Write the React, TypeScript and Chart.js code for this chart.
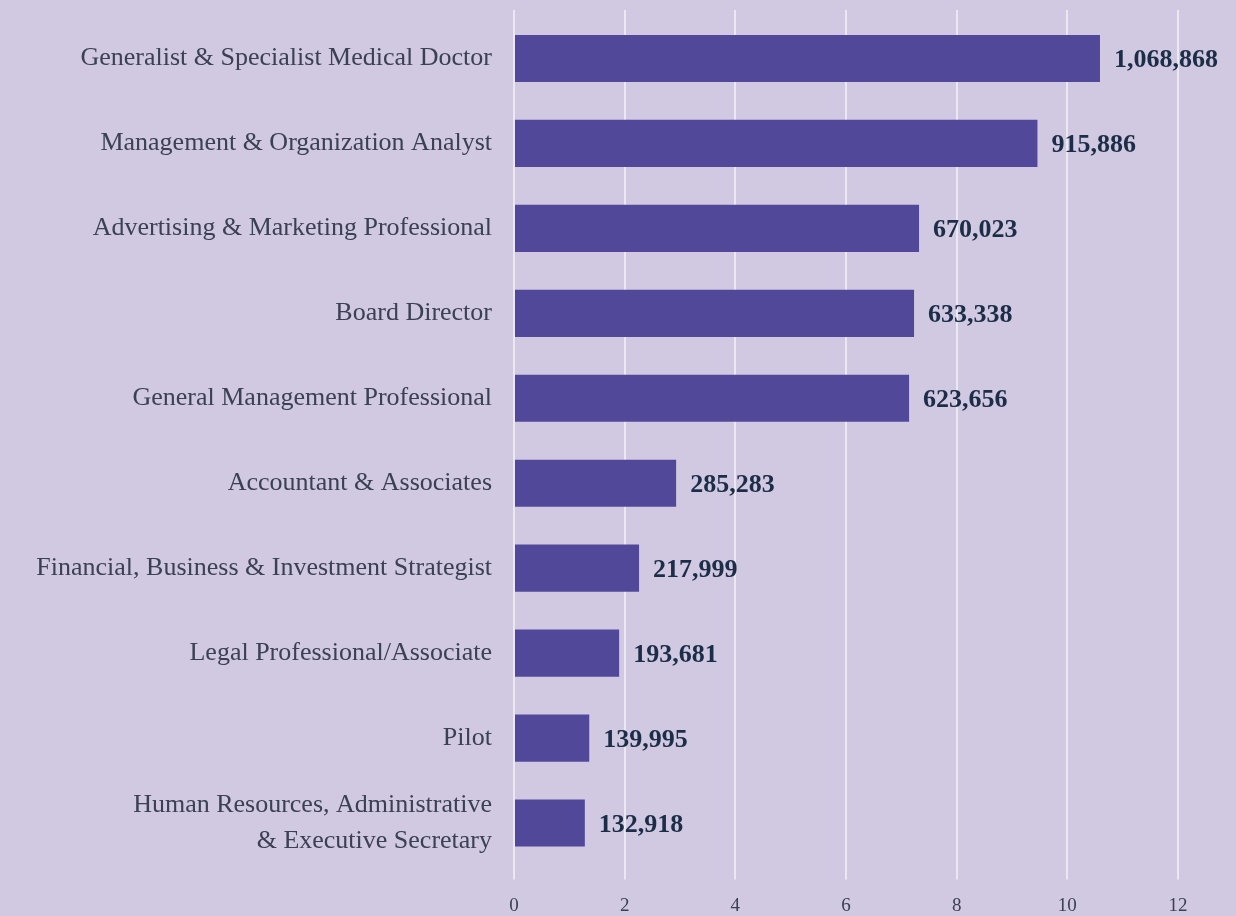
import React, { useEffect, useRef } from 'react';
import { Chart, registerables } from 'chart.js';

Chart.register(...registerables);

const categories: (string | string[])[] = [
  'Generalist & Specialist Medical Doctor',
  'Management & Organization Analyst',
  'Advertising & Marketing Professional',
  'Board Director',
  'General Management Professional',
  'Accountant & Associates',
  'Financial, Business & Investment Strategist',
  'Legal Professional/Associate',
  'Pilot',
  ['Human Resources, Administrative', '& Executive Secretary'],
];

const barLengths = [10.59, 9.46, 7.32, 7.23, 7.14, 2.93, 2.26, 1.9, 1.36, 1.28];

const valueLabels = [
  '1,068,868',
  '915,886',
  '670,023',
  '633,338',
  '623,656',
  '285,283',
  '217,999',
  '193,681',
  '139,995',
  '132,918',
];

const xMin = 0;
const xMax = 12;
const xStep = 2;

const BG = '#d1c8e1';
const BAR = '#52489a';
const GRID = '#ece8f1';
const LABEL = '#3a4055';
const VALUE = '#1c2d48';
const FONT = '"Liberation Serif", "Times New Roman", serif';

const valueLabelPlugin = {
  id: 'valueLabels',
  afterDatasetsDraw(chart: any) {
    const ctx = chart.ctx;
    const meta = chart.getDatasetMeta(0);
    ctx.save();
    ctx.font = `bold 26px ${FONT}`;
    ctx.fillStyle = VALUE;
    ctx.textAlign = 'left';
    ctx.textBaseline = 'middle';
    meta.data.forEach((bar: any, i: number) => {
      ctx.fillText(valueLabels[i], bar.x + 14, bar.y + 2);
    });
    ctx.restore();
  },
};

const gridTopPlugin = {
  id: 'gridTop',
  beforeDatasetsDraw(chart: any) {
    const ctx = chart.ctx;
    const xs = chart.scales.x;
    const top = chart.chartArea.top;
    ctx.save();
    ctx.strokeStyle = GRID;
    ctx.lineWidth = 2;
    xs.ticks.forEach((t: any) => {
      const px = Math.round(xs.getPixelForValue(t.value));
      ctx.beginPath();
      ctx.moveTo(px, 10);
      ctx.lineTo(px, top);
      ctx.stroke();
    });
    ctx.restore();
  },
};

export default function App() {
  const canvasRef = useRef<HTMLCanvasElement | null>(null);

  useEffect(() => {
    document.body.style.margin = '0';
    const canvas = canvasRef.current;
    if (!canvas) return;
    const chart = new Chart(canvas, {
      type: 'bar',
      data: {
        labels: categories,
        datasets: [
          {
            data: barLengths,
            backgroundColor: BAR,
            borderWidth: 0,
            categoryPercentage: 1,
            barPercentage: 0.555,
          },
        ],
      },
      options: {
        indexAxis: 'y',
        animation: false,
        responsive: false,
        maintainAspectRatio: false,
        layout: { padding: { top: 16, right: 58, bottom: 0, left: 0 } },
        plugins: {
          legend: { display: false },
          tooltip: { enabled: false },
        },
        scales: {
          x: {
            type: 'linear',
            min: xMin,
            max: xMax,
            border: { display: false },
            grid: {
              color: GRID,
              lineWidth: 2,
              drawTicks: true,
              tickLength: 14,
              tickColor: GRID,
            },
            ticks: {
              stepSize: xStep,
              padding: 15,
              color: LABEL,
              font: { family: FONT, size: 19 },
            },
            afterFit(scale: any) {
              scale.height = 50.5;
              scale.paddingLeft = 0;
              scale.paddingRight = 0;
            },
          },
          y: {
            border: { display: false },
            grid: { display: false, drawTicks: false },
            ticks: {
              padding: 22,
              color: LABEL,
              font: { family: FONT, size: 26, lineHeight: 1.4 },
            },
            afterFit(scale: any) {
              scale.width = 514;
              scale.paddingTop = 0;
              scale.paddingBottom = 0;
            },
          },
        },
      },
      plugins: [gridTopPlugin, valueLabelPlugin],
    });
    return () => chart.destroy();
  }, []);

  return (
    <div style={{ width: 1236, height: 916, background: BG, position: 'relative' }}>
      <canvas ref={canvasRef} width={1236} height={916} style={{ display: 'block' }} />
    </div>
  );
}
